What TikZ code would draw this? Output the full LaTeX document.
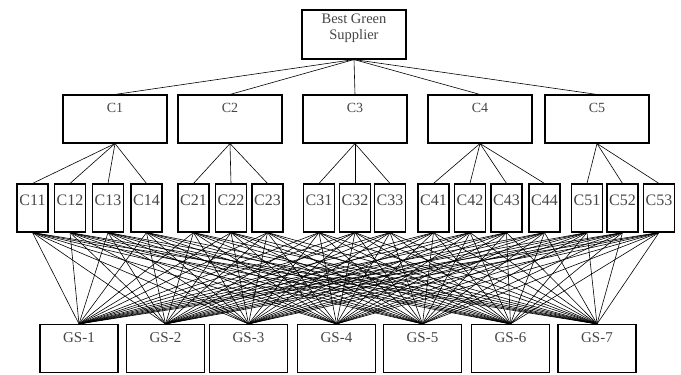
\documentclass[tikz,border=0pt]{standalone}
\usepackage{fontspec}
\setmainfont{Liberation Serif}
\usepackage{tikz}

\definecolor{labelgray}{RGB}{70,70,70}

\begin{document}
\begin{tikzpicture}[x=1pt,y=-1pt,
		box/.style={draw, line width=1.1pt, inner sep=0pt, text=labelgray},
		goalbox/.style={box, minimum width=104pt, align=center, text height=29pt, text depth=20pt, font=\fontsize{14.5}{15.5}\selectfont},
		critbox/.style={box, minimum width=104pt, text height=17pt, text depth=31pt, font=\fontsize{14}{16}\selectfont},
		subbox/.style={box, minimum width=31pt, text height=21pt, text depth=27pt, font=\fontsize{16}{18}\selectfont},
		altbox/.style={box, minimum width=78pt, text height=18pt, text depth=30pt, font=\fontsize{15}{17}\selectfont},
		link/.style={line width=0.6pt}]

		\useasboundingbox (0,0) rectangle (681,375);

		\node[goalbox] (goal) at (354,34.5) {Best Green\\Supplier};

		\foreach \n/\x in {1/115,2/230,3/355,4/480,5/597}{
				\node[critbox] (C\n) at (\x,119) {C\n};
				\draw[link] (goal.south) -- (C\n.north);
			}

		\foreach \n/\x/\p in {11/32.5/1,12/70/1,13/108/1,14/146.5/1,21/193.5/2,22/231/2,23/267.5/2,31/319/3,32/355/3,33/390/3,41/433.5/4,42/470/4,43/506.5/4,44/544.5/4,51/587/5,52/622.5/5,53/659/5}{
				\node[subbox] (C\n) at (\x,208) {C\n};
				\draw[link] (C\p.south) -- (C\n.north);
			}

		\foreach \g/\x in {1/79,2/165.5,3/248.5,4/336.5,5/422.5,6/510.5,7/597}{
				\node[altbox] (GS\g) at (\x,348.5) {GS-\g};
				\foreach \s in {11,12,13,14,21,22,23,31,32,33,41,42,43,44,51,52,53}{
					\draw[link] (C\s.south) -- (GS\g.north);
				}
			}

\end{tikzpicture}
\end{document}
